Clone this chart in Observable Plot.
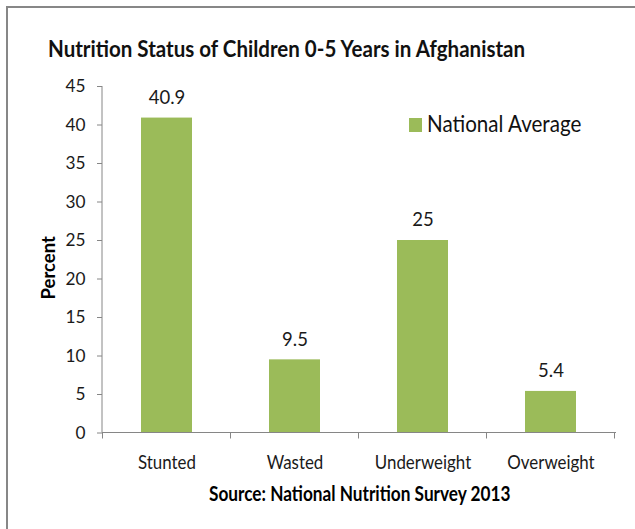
<!DOCTYPE html>
<html>
<head>
<meta charset="utf-8">
<script src="https://cdn.jsdelivr.net/npm/d3@7"></script>
<script src="https://cdn.jsdelivr.net/npm/@observablehq/plot@0.6"></script>
<style>
  body { margin: 0; background: #fff; }
  #wrap { position: relative; width: 635px; height: 529px; overflow: hidden;
          font-family: Lato, "Open Sans", sans-serif; color: #1a1a1a; }
  #border { position: absolute; left: 6px; top: 6px; width: 700px; height: 600px;
            border-top: 2px solid #878787; border-left: 2px solid #878787; }
  #chart { position: absolute; left: 0; top: 0; }
  .lbl { position: absolute; white-space: nowrap; line-height: 1; transform-origin: 0 0; }
  #title { left: 48px; top: 38px; font-weight: bold; font-size: 22.3px; color: #111; }
  #legend-sw { position: absolute; left: 409px; top: 118px; width: 13px; height: 14px; }
  #legend-tx { left: 427px; top: 113px; font-size: 22.3px; color: #111; }
  #source { top: 482px; font-weight: bold; font-size: 21px; color: #000; }
</style>
</head>
<body>
<div id="wrap">
  <div id="border"></div>
  <div id="chart"></div>
  <div id="title" class="lbl"></div>
  <div id="legend-sw"></div>
  <div id="legend-tx" class="lbl"></div>
  <div id="source" class="lbl"></div>
</div>
<script>
// Nutrition status of children aged 0-5, National Nutrition Survey 2013
const categories = ["Stunted", "Wasted", "Underweight", "Overweight"];
const percents = [40.9, 9.5, 25, 5.4];
const yTicks = [0, 5, 10, 15, 20, 25, 30, 35, 40, 45];
const seriesName = "National Average";
const titleText = "Nutrition Status of Children 0-5 Years in Afghanistan";
const yLabel = "Percent";
const sourceText = "Source: National Nutrition Survey 2013";

const barColor = "#9BBB59";
const axisGray = "#868686";
const textColor = "#1a1a1a";
const fontFamily = 'Lato, "Open Sans", sans-serif';

// The chart uses a condensed face; emulate it by narrowing Lato horizontally.
const ctx = document.createElement("canvas").getContext("2d");
function textWidth(str, size, weight = "normal") {
  ctx.font = `${weight} ${size}px ${fontFamily}`;
  return ctx.measureText(str).width;
}
const sizes = {title: 22.3, legend: 22.3, source: 21, category: 19.5, value: 18.5, tick: 17.5, axisLabel: 18.5};
const squeeze = {
  title: 479 / textWidth(titleText, sizes.title, "bold"),
  legend: 155 / textWidth(seriesName, sizes.legend),
  source: 302 / textWidth(sourceText, sizes.source, "bold"),
  category: 58 / textWidth("Stunted", sizes.category),
  value: 35 / textWidth("40.9", sizes.value),
  tick: 20 / textWidth("45", sizes.tick),
  axisLabel: 62 / textWidth(yLabel, sizes.axisLabel, "bold")
};

const rows = categories.map((c, i) => ({category: c, value: percents[i]}));

// Axis lines plus the tick marks that sit on the category boundaries
function axisLines(index, scales) {
  const x = scales.x, y = scales.y;
  const step = x.step(), bw = x.bandwidth();
  const [x0, x1] = x.range();
  const yb = y(0), yt = y(d3.max(yTicks));
  const g = d3.create("svg:g").attr("stroke", axisGray).attr("stroke-width", 1).attr("fill", "none");
  g.append("line").attr("x1", x0).attr("x2", x0).attr("y1", yb).attr("y2", yt);
  g.append("line").attr("x1", x0).attr("x2", x1).attr("y1", yb).attr("y2", yb);
  const edges = categories.map(c => x(c) - (step - bw) / 2);
  edges.push(edges[edges.length - 1] + step);
  for (const e of edges) {
    g.append("line").attr("x1", e).attr("x2", e).attr("y1", yb).attr("y2", yb + 6);
  }
  return g.node();
}

const plot = Plot.plot({
  width: 635,
  height: 529,
  marginLeft: 102,
  marginRight: 19,
  marginTop: 86,
  marginBottom: 96.5,
  style: {fontFamily, background: "transparent", color: textColor},
  x: {domain: categories, paddingInner: 0.6, paddingOuter: 0.3, label: null},
  y: {domain: [0, 45], label: null},
  marks: [
    Plot.barY(rows, {x: "category", y: "value", fill: barColor}),
    Plot.text(rows, {x: "category", y: "value", text: d => String(d.value), dy: -20, fontSize: sizes.value, fill: textColor, ariaLabel: "value"}),
    Plot.axisY({ticks: yTicks, tickSize: 5, tickPadding: 12, stroke: axisGray, fill: textColor, fontSize: sizes.tick, label: null}),
    Plot.axisX({tickSize: 0, tickPadding: 22.5, fill: textColor, fontSize: sizes.category, label: null}),
    Plot.text([yLabel], {frameAnchor: "left", textAnchor: "middle", lineAnchor: "middle", dx: -53, dy: 8, rotate: -90, fontWeight: "bold", fontSize: sizes.axisLabel, fill: "#000", ariaLabel: "y-label"}),
    axisLines
  ]
});

// narrow each text around its own anchor point
function condense(groupLabel, f) {
  plot.querySelectorAll(`g[aria-label="${groupLabel}"] text`).forEach(t => {
    let tr = t.getAttribute("transform");
    if (!tr) {
      const x = t.getAttribute("x") || 0, y = t.getAttribute("y") || 0;
      t.removeAttribute("x"); t.removeAttribute("y");
      tr = `translate(${x},${y})`;
    }
    t.setAttribute("transform", `${tr} scale(${f},1)`);
  });
}
condense("y-axis tick label", squeeze.tick);
condense("x-axis tick label", squeeze.category);
condense("value", squeeze.value);
condense("y-label", squeeze.axisLabel);
document.getElementById("chart").appendChild(plot);

const title = document.getElementById("title");
title.textContent = titleText;
title.style.transform = `scaleX(${squeeze.title})`;

document.getElementById("legend-sw").style.background = barColor;
const legendText = document.getElementById("legend-tx");
legendText.textContent = seriesName;
legendText.style.transform = `scaleX(${squeeze.legend})`;

const source = document.getElementById("source");
source.textContent = sourceText;
source.style.left = (360 - 302 / 2) + "px";
source.style.transform = `scaleX(${squeeze.source})`;
</script>
</body>
</html>
